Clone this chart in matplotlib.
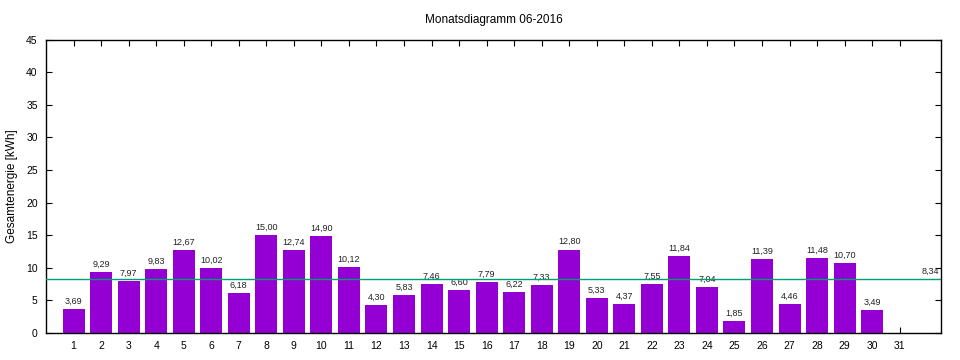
import matplotlib
matplotlib.use('Agg')
import matplotlib.pyplot as plt

plt.rcParams['font.family'] = ['Liberation Sans', 'DejaVu Sans']

days = list(range(1, 32))
energy = [3.69, 9.29, 7.97, 9.83, 12.67, 10.02, 6.18, 15.00, 12.74, 14.90,
          10.12, 4.30, 5.83, 7.46, 6.60, 7.79, 6.22, 7.33, 12.80, 5.33,
          4.37, 7.55, 11.84, 7.04, 1.85, 11.39, 4.46, 11.48, 10.70, 3.49]
average = 8.34
title = 'Monatsdiagramm 06-2016'
ylabel = 'Gesamtenergie [kWh]'


def de(v):
    return ('%.2f' % v).replace('.', ',')


fig = plt.figure(figsize=(9.6, 3.6), dpi=100)
ax = fig.add_axes([46/960, 27/360, 895/960, 293.5/360])

x = days[:len(energy)]
ax.bar(x, energy, width=0.8, color='#9400d3', zorder=2)
for xi, v in zip(x, energy):
    ax.text(xi, v + 0.5, de(v), ha='center', va='bottom', fontsize=6.5, color='#222222')

ax.axhline(average, color='#009e73', lw=1, zorder=3)
ax.text(32.45, average + 0.5, de(average), ha='right', va='bottom', fontsize=6.5, color='#222222')

ax.set_xlim(0.0, 32.5)
ax.set_ylim(0, 45)
ax.set_xticks(days)
ax.set_xticklabels([str(d) for d in days])
ax.set_yticks(range(0, 46, 5))
ax.tick_params(direction='in', length=4, width=0.8, top=True, right=True,
               labelsize=7.5, pad=6)
for s in ax.spines.values():
    s.set_linewidth(1)

ax.set_title(title, fontsize=8.5, pad=12)
ax.set_ylabel(ylabel, fontsize=8.5, labelpad=6)

fig.savefig('out.png', dpi=100)
